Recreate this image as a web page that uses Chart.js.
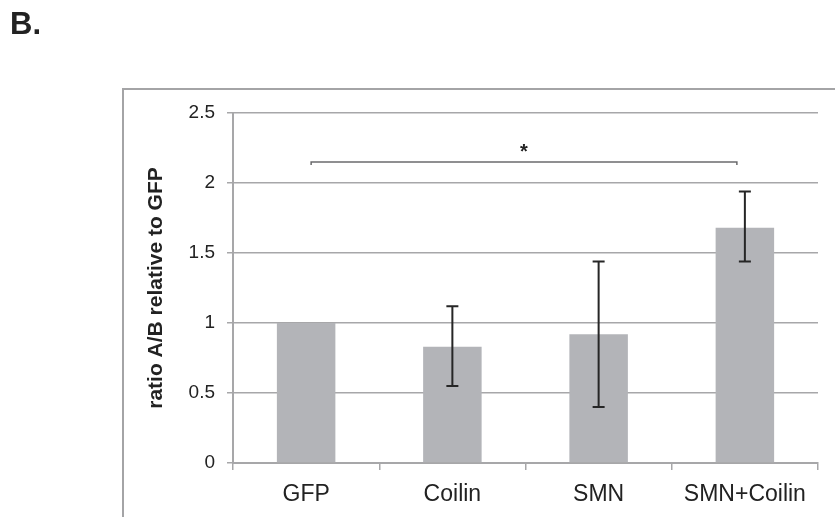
<!DOCTYPE html>
<html>
<head>
<meta charset="utf-8">
<script src="https://cdn.jsdelivr.net/npm/chart.js@4.4.0/dist/chart.umd.min.js"></script>
<style>
    html, body { margin: 0; padding: 0; background: #fff; }
    #wrap { position: relative; width: 835px; height: 517px; overflow: hidden; }
    #panel { position: absolute; left: 10px; top: 6px; font: bold 31px "Liberation Sans", Arial, sans-serif; color: #222; }
    canvas { position: absolute; left: 0; top: 0; }
</style>
</head>
<body>
<div id="wrap">
    <canvas id="chart" width="835" height="517"></canvas>
    <div id="panel">B.</div>
</div>
<script>
// data
const categories = ['GFP', 'Coilin', 'SMN', 'SMN+Coilin'];
const ratioValues = [1.0, 0.83, 0.92, 1.68];
const errorLow = [null, 0.55, 0.40, 1.44];
const errorHigh = [null, 1.12, 1.44, 1.94];
const yTicks = [0, 0.5, 1, 1.5, 2, 2.5];
const bracketFrom = 0;
const bracketTo = 3;
const bracketLevel = 2.15;

const gridGrey = '#a7a7a9';

// frame round the plot (only the left and top edges are in the picture)
const framePlugin = {
    id: 'frame',
    beforeDraw(chart) {
        const c = chart.ctx;
        c.save();
        c.strokeStyle = '#a4a4a6';
        c.lineWidth = 2;
        c.beginPath();
        c.moveTo(123, 530);
        c.lineTo(123, 89);
        c.lineTo(840, 89);
        c.stroke();
        c.restore();
    }
};

// error bars and the significance bracket
const errorPlugin = {
    id: 'errors',
    afterDatasetsDraw(chart) {
        const c = chart.ctx;
        const x = chart.scales.x;
        const y = chart.scales.y;
        c.save();
        c.strokeStyle = '#262626';
        c.lineWidth = 2;
        errorLow.forEach((lo, i) => {
            if (lo === null) return;
            const cx = x.getPixelForValue(i);
            const y1 = y.getPixelForValue(lo);
            const y2 = y.getPixelForValue(errorHigh[i]);
            c.beginPath();
            c.moveTo(cx, y1); c.lineTo(cx, y2);
            c.moveTo(cx - 6, y1); c.lineTo(cx + 6, y1);
            c.moveTo(cx - 6, y2); c.lineTo(cx + 6, y2);
            c.stroke();
        });

        const bx1 = x.getPixelForValue(bracketFrom) + 5;
        const bx2 = x.getPixelForValue(bracketTo) - 8;
        const by = y.getPixelForValue(bracketLevel);
        c.strokeStyle = '#6b6b6d';
        c.lineWidth = 1.5;
        c.beginPath();
        c.moveTo(bx1, by + 3); c.lineTo(bx1, by); c.lineTo(bx2, by); c.lineTo(bx2, by + 3);
        c.stroke();
        c.fillStyle = '#222';
        c.font = 'bold 20px "Liberation Sans", Arial, sans-serif';
        c.textAlign = 'center';
        c.textBaseline = 'middle';
        c.fillText('*', (bx1 + bx2) / 2, by - 10);
        c.restore();
    }
};

const ctx = document.getElementById('chart').getContext('2d');

new Chart(ctx, {
    type: 'bar',
    data: {
        labels: categories,
        datasets: [{
            label: 'ratio A/B relative to GFP',
            data: ratioValues,
            backgroundColor: '#b3b4b8',
            borderWidth: 0,
            barPercentage: 0.4,
            categoryPercentage: 1.0
        }]
    },
    options: {
        responsive: false,
        animation: false,
        layout: { padding: { left: 0, right: 17, top: 113, bottom: 0 } },
        plugins: {
            legend: { display: false },
            tooltip: { enabled: false }
        },
        scales: {
            x: {
                grid: {
                    offset: true,
                    drawOnChartArea: false,
                    drawTicks: true,
                    tickLength: 7,
                    color: gridGrey,
                    lineWidth: 1.5
                },
                border: { color: gridGrey, width: 2 },
                ticks: {
                    color: '#222',
                    padding: 11,
                    font: { family: '"Liberation Sans", Arial, sans-serif', size: 23 }
                },
                afterFit(scale) { scale.height = 54; }
            },
            y: {
                min: 0,
                max: 2.5,
                afterBuildTicks(scale) {
                    scale.ticks = yTicks.map(v => ({ value: v }));
                },
                grid: {
                    color: gridGrey,
                    lineWidth: 1.5,
                    tickLength: 6
                },
                border: { color: gridGrey, width: 2 },
                ticks: {
                    color: '#222',
                    padding: 12,
                    font: { family: '"Liberation Sans", Arial, sans-serif', size: 19 },
                    callback: (v) => String(v)
                },
                title: {
                    display: true,
                    text: 'ratio A/B relative to GFP',
                    color: '#222',
                    padding: { top: 144, bottom: 0 },
                    font: { family: '"Liberation Sans", Arial, sans-serif', size: 21, weight: 'bold' }
                },
                afterFit(scale) { scale.width = 233; }
            }
        }
    },
    plugins: [framePlugin, errorPlugin]
});
</script>
</body>
</html>
